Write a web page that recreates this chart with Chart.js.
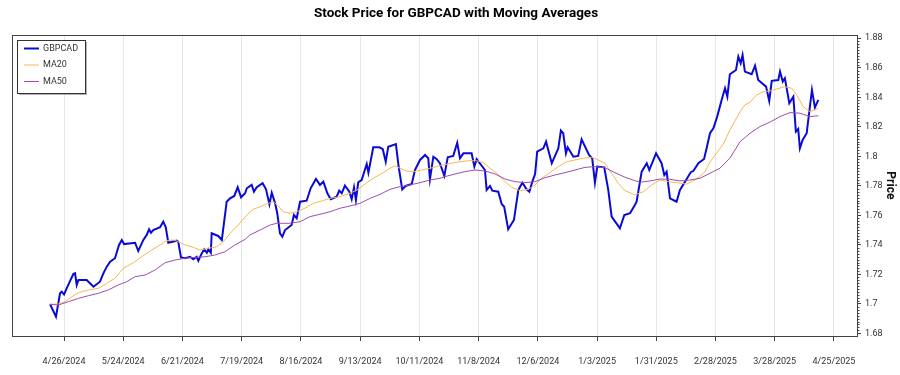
<!DOCTYPE html>
<html>
<head>
<meta charset="utf-8">
<script src="https://cdn.jsdelivr.net/npm/chart.js@4.4.1/dist/chart.umd.min.js"></script>
<style>
  html, body { margin: 0; padding: 0; background: #fff; }
</style>
</head>
<body>
<canvas id="chartGBPCAD" width="900" height="375"></canvas>
<script>
// days counted from 4/26/2024
const priceDays = [-6.6, -3.8, -1.9, -1.1, 0, 2.0, 4.4, 5.2, 6.0, 6.8, 10.7, 13.9, 17.0, 18.6, 20.2, 21.8, 24.1, 26.0, 27.3, 28.4,
  33.6, 35.1, 37.5, 39.1, 40.2, 41.1, 42.2, 45.4, 46.9, 48.1, 49.3, 53.3, 54.0, 55.3, 57.2, 59.6, 61.1, 62.7, 63.5, 65.1,
  66.3, 67.5, 68.2, 69.4, 69.8, 72.9, 74.6, 76.9, 78.5, 80.5, 82.1, 83.7, 85.6, 86.4, 88.7, 89.8, 91.1, 93.9, 95.5, 97.1,
  98.2, 99.8, 100.8, 102.1, 103.2, 104.5, 107.6, 108.7, 110.0, 111.6, 114.7, 116.6, 119.1, 121.0, 122.6, 124.5, 126.1, 128.9, 130.1, 131.3,
  132.8, 134.9, 136.0, 137.1, 138.0, 139.1, 140.7, 143.1, 143.9, 146.2, 149.1, 150.7, 152.1, 153.3, 156.9, 158.2, 159.9, 161.5, 164.4, 165.9,
  168.3, 170.7, 172.2, 173.0, 174.6, 176.2, 177.7, 179.8, 181.4, 184.0, 185.9, 187.2, 188.8, 192.7, 194.0, 195.1, 199.0, 199.8, 201.4, 202.5,
  205.3, 206.9, 208.1, 210.0, 212.7, 214.8, 216.7, 218.7, 220.0, 221.4, 222.7, 223.7, 226.6, 227.9, 230.6, 233.7, 234.9, 236.0, 237.3, 238.1,
  240.8, 243.1, 244.7, 248.2, 249.7, 251.0, 252.1, 255.4, 257.3, 258.9, 262.8, 264.9, 267.6, 269.9, 270.7, 273.1, 275.5, 276.7, 279.9, 282.5,
  283.8, 284.9, 286.5, 289.6, 291.2, 293.6, 296.3, 297.5, 299.9, 302.6, 303.8, 305.4, 307.0, 308.8, 310.9, 312.5, 313.6, 314.8, 317.7, 318.8,
  319.9, 320.8, 321.9, 325.1, 326.7, 328.2, 331.9, 333.4, 334.6, 337.7, 338.5, 339.8, 340.8, 342.9, 344.8, 346.0, 347.1, 347.9, 349.2, 351.1,
  353.6, 355.0, 356.6];
const priceValues = [1.6997, 1.6913, 1.7071, 1.7082, 1.7064, 1.7128, 1.7202, 1.7207, 1.7128, 1.7161, 1.7161, 1.7116, 1.7150, 1.7207, 1.7252, 1.7285, 1.7309, 1.7399, 1.7433, 1.7405,
  1.7414, 1.7358, 1.7433, 1.7467, 1.7505, 1.7482, 1.7500, 1.7519, 1.7557, 1.7519, 1.7414, 1.7428, 1.7421, 1.7315, 1.7309, 1.7319, 1.7302, 1.7319, 1.7292, 1.7342,
  1.7370, 1.7346, 1.7370, 1.7346, 1.7478, 1.7460, 1.7433, 1.7692, 1.7715, 1.7731, 1.7790, 1.7722, 1.7749, 1.7783, 1.7806, 1.7760, 1.7790, 1.7817, 1.7776, 1.7675,
  1.7753, 1.7681, 1.7614, 1.7478, 1.7455, 1.7500, 1.7534, 1.7602, 1.7580, 1.7692, 1.7699, 1.7783, 1.7846, 1.7806, 1.7828, 1.7749, 1.7709, 1.7726, 1.7767, 1.7749,
  1.7801, 1.7760, 1.7709, 1.7790, 1.7704, 1.7824, 1.7839, 1.7948, 1.7889, 1.8061, 1.8061, 1.8048, 1.7963, 1.8065, 1.8083, 1.7930, 1.7776, 1.7799, 1.7812, 1.7907,
  1.7975, 1.8009, 1.7987, 1.7844, 1.7997, 1.7980, 1.7953, 1.7867, 1.7993, 1.8002, 1.8092, 1.7987, 1.8020, 1.8020, 1.7930, 1.7980, 1.7907, 1.7772, 1.7799, 1.7767,
  1.7760, 1.7677, 1.7658, 1.7505, 1.7568, 1.7772, 1.7821, 1.7776, 1.7760, 1.7828, 1.7880, 1.8031, 1.8054, 1.8099, 1.7953, 1.8054, 1.8174, 1.8156, 1.8020, 1.8061,
  1.7997, 1.8002, 1.8115, 1.8009, 1.7987, 1.7821, 1.7930, 1.7925, 1.7772, 1.7591, 1.7512, 1.7602, 1.7614, 1.7670, 1.7692, 1.7896, 1.7953, 1.7907, 1.8020, 1.7953,
  1.7873, 1.7896, 1.7715, 1.7692, 1.7772, 1.7828, 1.7892, 1.7900, 1.7953, 1.7982, 1.8054, 1.8156, 1.8190, 1.8269, 1.8382, 1.8461, 1.8404, 1.8556, 1.8585, 1.8675,
  1.8631, 1.8687, 1.8574, 1.8556, 1.8614, 1.8517, 1.8472, 1.8375, 1.8511, 1.8517, 1.8574, 1.8506, 1.8529, 1.8359, 1.8404, 1.8167, 1.8185, 1.8054, 1.8111, 1.8156,
  1.8450, 1.8330, 1.8382];

const ma20Days = [-6.6, -2.7, 0.5, 3.6, 6.8, 11.5, 16.2, 20.2, 24.1, 28.0, 32.8, 36.7, 41.5, 45.4, 48.6, 51.7, 54.0, 57.2, 61.1, 64.3,
  68.2, 72.2, 75.3, 78.5, 82.4, 86.4, 89.5, 92.7, 95.8, 98.9, 101.3, 103.7, 106.8, 110.0, 113.9, 117.9, 121.8, 125.8, 130.5, 135.2,
  139.1, 143.1, 147.0, 150.9, 154.1, 156.5, 158.8, 162.0, 165.1, 169.1, 173.0, 179.3, 183.3, 187.2, 191.1, 195.1, 198.2, 201.4, 204.6, 207.7,
  211.6, 215.6, 219.5, 222.7, 225.8, 229.7, 233.7, 237.6, 241.6, 245.5, 249.5, 252.6, 255.7, 258.9, 262.0, 265.2, 269.9, 273.9, 277.8, 281.8,
  285.7, 289.6, 294.4, 299.1, 303.0, 305.4, 311.7, 314.8, 319.6, 321.9, 324.3, 327.5, 330.6, 333.7, 336.9, 340.8, 344.0, 346.4, 349.5, 352.7,
  356.6];
const ma20Values = [1.6997, 1.6999, 1.7014, 1.7048, 1.7075, 1.7094, 1.7105, 1.7139, 1.7173, 1.7241, 1.7279, 1.7319, 1.7365, 1.7399, 1.7428, 1.7433, 1.7421, 1.7399, 1.7383, 1.7365,
  1.7376, 1.7387, 1.7421, 1.7478, 1.7534, 1.7602, 1.7641, 1.7658, 1.7677, 1.7692, 1.7663, 1.7624, 1.7614, 1.7624, 1.7648, 1.7681, 1.7697, 1.7715, 1.7726, 1.7749,
  1.7776, 1.7821, 1.7858, 1.7889, 1.7919, 1.7934, 1.7919, 1.7900, 1.7896, 1.7907, 1.7919, 1.7941, 1.7953, 1.7963, 1.7970, 1.7970, 1.7957, 1.7919, 1.7885, 1.7839,
  1.7790, 1.7767, 1.7776, 1.7806, 1.7851, 1.7889, 1.7930, 1.7963, 1.7975, 1.7987, 1.7993, 1.7975, 1.7953, 1.7885, 1.7817, 1.7767, 1.7738, 1.7760, 1.7806, 1.7839,
  1.7828, 1.7821, 1.7812, 1.7846, 1.7894, 1.7961, 1.8083, 1.8178, 1.8302, 1.8348, 1.8366, 1.8416, 1.8438, 1.8443, 1.8456, 1.8472, 1.8461, 1.8416, 1.8336, 1.8302,
  1.8326];

const ma50Days = [-6.6, -2.7, 2.0, 6.8, 11.5, 16.2, 20.9, 25.7, 29.6, 33.6, 38.3, 43.0, 47.8, 52.5, 57.2, 61.9, 66.7, 71.4, 76.1, 80.8,
  85.6, 87.9, 92.7, 97.4, 100.6, 106.8, 111.6, 116.3, 121.0, 125.8, 130.5, 135.2, 139.9, 144.7, 149.4, 154.1, 158.8, 163.6, 168.3, 173.0,
  177.7, 180.1, 184.8, 189.6, 194.3, 199.0, 203.8, 208.5, 213.2, 217.9, 222.7, 227.4, 232.1, 236.8, 241.6, 246.3, 251.0, 255.7, 260.5, 265.2,
  269.9, 272.3, 277.0, 281.8, 286.5, 291.2, 295.9, 300.7, 305.4, 310.1, 314.8, 319.6, 324.3, 329.0, 333.7, 338.5, 343.2, 347.9, 352.7, 356.6];
const ma50Values = [1.6997, 1.6992, 1.7014, 1.7037, 1.7055, 1.7071, 1.7094, 1.7128, 1.7150, 1.7184, 1.7195, 1.7229, 1.7279, 1.7297, 1.7309, 1.7315, 1.7319, 1.7331, 1.7353, 1.7399,
  1.7437, 1.7467, 1.7500, 1.7534, 1.7546, 1.7546, 1.7557, 1.7591, 1.7607, 1.7624, 1.7648, 1.7663, 1.7681, 1.7715, 1.7742, 1.7776, 1.7794, 1.7806, 1.7821, 1.7839,
  1.7851, 1.7862, 1.7880, 1.7896, 1.7907, 1.7900, 1.7880, 1.7846, 1.7828, 1.7821, 1.7828, 1.7855, 1.7873, 1.7889, 1.7907, 1.7925, 1.7930, 1.7923, 1.7889, 1.7858,
  1.7835, 1.7824, 1.7833, 1.7846, 1.7844, 1.7833, 1.7839, 1.7851, 1.7885, 1.7919, 1.7987, 1.8099, 1.8156, 1.8201, 1.8231, 1.8269, 1.8296, 1.8292, 1.8269, 1.8275];

const xTickDays = [0, 28, 56, 84, 112, 140, 168, 196, 224, 252, 280, 308, 336, 364];
const xTickLabels = ['4/26/2024', '5/24/2024', '6/21/2024', '7/19/2024', '8/16/2024', '9/13/2024', '10/11/2024',
  '11/8/2024', '12/6/2024', '1/3/2025', '1/31/2025', '2/28/2025', '3/28/2025', '4/25/2025'];
const yTicks = [1.68, 1.70, 1.72, 1.74, 1.76, 1.78, 1.80, 1.82, 1.84, 1.86, 1.88];

const toPoints = (days, values) => days.map((d, i) => ({ x: d, y: values[i] }));

Chart.defaults.font.family = "Roboto, 'Open Sans', sans-serif";
Chart.defaults.color = '#333';

// frame round the plot area, minor ticks on the price axis and the boxed legend
const framePlugin = {
  id: 'frame',
  afterDraw(chart) {
    const ctx = chart.ctx;
    const a = chart.chartArea;
    const y = chart.scales.y;
    ctx.save();
    ctx.strokeStyle = '#444';
    ctx.lineWidth = 1;
    ctx.strokeRect(Math.round(a.left) + 0.5, Math.round(a.top) + 0.5,
      Math.round(a.right - a.left), Math.round(a.bottom - a.top));

    // minor ticks
    ctx.beginPath();
    for (let i = 0; i <= 100; i++) {
      if (i % 10 === 0) continue;
      const py = Math.round(y.getPixelForValue(1.68 + i * 0.002)) + 0.5;
      ctx.moveTo(Math.round(a.right), py);
      ctx.lineTo(Math.round(a.right) + 2.5, py);
    }
    ctx.stroke();

    // legend
    const lx = 17, ly = 40, lw = 68, lh = 53;
    ctx.fillStyle = 'rgba(0,0,0,0.3)';
    ctx.fillRect(lx + 2, ly + 2, lw, lh);
    ctx.fillStyle = '#fff';
    ctx.fillRect(lx, ly, lw, lh);
    ctx.strokeStyle = '#333';
    ctx.strokeRect(lx + 0.5, ly + 0.5, lw, lh);
    ctx.font = "9px Roboto, 'Open Sans', sans-serif";
    ctx.textBaseline = 'middle';
    chart.data.datasets.forEach((ds, i) => {
      const ry = ly + 8.5 + i * 16.5;
      ctx.strokeStyle = ds.borderColor;
      ctx.lineWidth = ds.borderWidth;
      ctx.beginPath();
      ctx.moveTo(lx + 7, ry);
      ctx.lineTo(lx + 22, ry);
      ctx.stroke();
      ctx.fillStyle = '#333';
      ctx.fillText(ds.label, lx + 26, ry);
    });
    ctx.restore();
  }
};

const ctx = document.getElementById('chartGBPCAD').getContext('2d');
const myChart = new Chart(ctx, {
  type: 'line',
  data: {
    datasets: [
      {
        label: 'GBPCAD',
        data: toPoints(priceDays, priceValues),
        borderColor: '#0a0ad6',
        borderWidth: 2,
        order: 3,
      },
      {
        label: 'MA20',
        data: toPoints(ma20Days, ma20Values),
        borderColor: '#f5b850',
        borderWidth: 1,
        order: 2,
      },
      {
        label: 'MA50',
        data: toPoints(ma50Days, ma50Values),
        borderColor: '#9b4fae',
        borderWidth: 1,
        order: 1,
      },
    ],
  },
  options: {
    responsive: false,
    animation: false,
    elements: { point: { radius: 0 }, line: { tension: 0 } },
    layout: { padding: { left: 12, right: 0, top: 0, bottom: 0 } },
    scales: {
      x: {
        type: 'linear',
        min: -24.6,
        max: 374.9,
        afterFit: (scale) => { scale.height = 39; },
        afterBuildTicks: (scale) => { scale.ticks = xTickDays.map((v) => ({ value: v })); },
        border: { display: false },
        grid: { color: '#e6e6e6', tickColor: '#444', tickLength: 5 },
        ticks: {
          autoSkip: false,
          maxRotation: 0,
          padding: 15,
          font: { size: 9 },
          color: '#333',
          callback: (value, index) => xTickLabels[index],
        },
      },
      y: {
        position: 'right',
        min: 1.6782,
        max: 1.8824,
        afterFit: (scale) => { scale.width = 43; },
        afterBuildTicks: (scale) => { scale.ticks = yTicks.map((v) => ({ value: v })); },
        border: { display: false },
        grid: { drawOnChartArea: false, tickColor: '#444', tickLength: 4 },
        ticks: {
          padding: 4,
          font: { size: 9 },
          color: '#333',
          callback: (value) => String(Number(value.toFixed(2))),
        },
        title: {
          display: true,
          text: 'Price',
          color: '#111',
          font: { size: 12, weight: 'bold' },
          padding: { top: 3, bottom: 0 },
        },
      },
    },
    plugins: {
      legend: { display: false },
      tooltip: { enabled: false },
      title: {
        display: true,
        text: 'Stock Price for GBPCAD with Moving Averages',
        color: '#000',
        font: { size: 13.5, weight: 'bold' },
        padding: { top: 6, bottom: 12.5 },
      },
    },
  },
  plugins: [framePlugin],
});
</script>
</body>
</html>
